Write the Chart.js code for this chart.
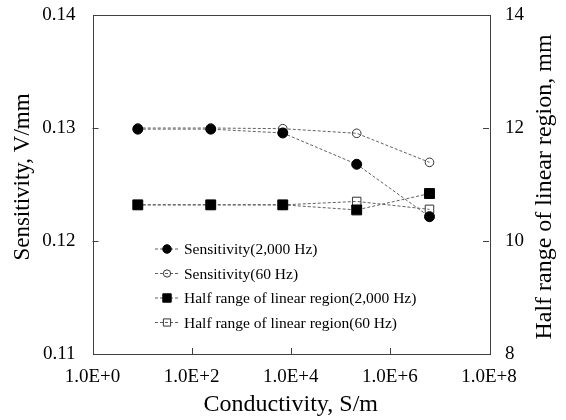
<!DOCTYPE html>
<html>
<head>
<meta charset="utf-8">
<script src="https://cdn.jsdelivr.net/npm/chart.js@4.4.0/dist/chart.umd.min.js"></script>
<style>
  html, body { margin: 0; padding: 0; background: #fff; }
  canvas { display: block; }
</style>
</head>
<body>
<canvas id="myChart" width="566" height="420"></canvas>
<script>
// values
const conductivity = [8.2, 243, 6900, 2.14e5, 6.3e6];
const sens2000 = [0.1299, 0.1299, 0.12956, 0.12679, 0.12215];
const sens60 = [0.1300, 0.1300, 0.12994, 0.12953, 0.12696];
const half2000 = [10.64, 10.64, 10.64, 10.55, 10.84];
const half60 = [10.64, 10.64, 10.64, 10.70, 10.56];
const seriesNames = [
  'Sensitivity(2,000 Hz)',
  'Sensitivity(60 Hz)',
  'Half range of linear region(2,000 Hz)',
  'Half range of linear region(60 Hz)'
];
const xTicks = [1, 1e2, 1e4, 1e6, 1e8];
const leftTicks = [0.11, 0.12, 0.13, 0.14];
const rightTicks = [8, 10, 12, 14];

const FONT = '"Liberation Serif", "Times New Roman", serif';
const AXIS = '#404040';
const LINE = '#606060';

function pts(ys) {
  return conductivity.map((x, i) => ({ x: x, y: ys[i] }));
}

function series(i, ys, axis, style, radius, filled) {
  return {
    label: seriesNames[i],
    data: pts(ys),
    yAxisID: axis,
    showLine: true,
    tension: 0,
    borderColor: LINE,
    borderWidth: 1,
    borderDash: [3, 2],
    pointStyle: style,
    pointRadius: radius,
    pointHoverRadius: radius,
    pointBorderWidth: 1,
    pointBorderColor: filled ? '#000' : '#333',
    pointBackgroundColor: filled ? '#000' : 'rgba(0,0,0,0)'
  };
}

function marker(ctx, ds, x, y, scale) {
  const r = ds.pointRadius * scale;
  ctx.save();
  ctx.setLineDash([]);
  ctx.lineWidth = 1;
  ctx.strokeStyle = ds.pointBorderColor;
  ctx.fillStyle = ds.pointBackgroundColor;
  ctx.beginPath();
  if (ds.pointStyle === 'rect') {
    const s = r * Math.SQRT1_2;
    ctx.rect(x - s, y - s, 2 * s, 2 * s);
  } else {
    ctx.arc(x, y, r, 0, Math.PI * 2);
  }
  ctx.fill();
  ctx.stroke();
  ctx.restore();
}

// fixed axis sizes so the plot box sits where the reference has it
function fixY(width) {
  return s => {
    s.width = width;
    s.paddingTop = 0;
    s.paddingBottom = 0;
  };
}

const decor = {
  id: 'decor',
  afterDraw(chart) {
    const ctx = chart.ctx;
    const a = chart.chartArea;
    const xs = chart.scales.x, yl = chart.scales.y, yr = chart.scales.y2;
    ctx.save();
    // frame
    ctx.strokeStyle = AXIS;
    ctx.lineWidth = 1;
    ctx.strokeRect(Math.round(a.left) + 0.5, Math.round(a.top) + 0.5,
      Math.round(a.right - a.left), Math.round(a.bottom - a.top));
    // inside tick marks
    ctx.beginPath();
    xTicks.slice(1, -1).forEach(v => {
      const px = Math.round(xs.getPixelForValue(v)) + 0.5;
      ctx.moveTo(px, a.bottom);
      ctx.lineTo(px, a.bottom - 6);
    });
    leftTicks.slice(1, -1).forEach(v => {
      const py = Math.round(yl.getPixelForValue(v)) + 0.5;
      ctx.moveTo(a.left, py);
      ctx.lineTo(a.left + 6, py);
    });
    rightTicks.slice(1, -1).forEach(v => {
      const py = Math.round(yr.getPixelForValue(v)) + 0.5;
      ctx.moveTo(a.right, py);
      ctx.lineTo(a.right - 6, py);
    });
    ctx.stroke();

    // axis titles
    ctx.fillStyle = '#000';
    ctx.textAlign = 'center';
    ctx.textBaseline = 'middle';
    ctx.font = '24px ' + FONT;
    ctx.fillText('Conductivity, S/m', (a.left + a.right) / 2, 405);
    ctx.save();
    ctx.translate(545, 187);
    ctx.rotate(-Math.PI / 2);
    ctx.fillText('Half range of linear region, mm', 0, 0);
    ctx.restore();
    ctx.font = '23px ' + FONT;
    ctx.save();
    ctx.translate(23, 177);
    ctx.rotate(-Math.PI / 2);
    ctx.fillText('Sensitivity, V/mm', 0, 0);
    ctx.restore();

    // legend inside the plot
    const ly = [249, 273.5, 298, 322.5];
    ctx.font = '15.5px ' + FONT;
    ctx.textAlign = 'left';
    chart.data.datasets.forEach((ds, i) => {
      const y = ly[i];
      ctx.save();
      ctx.strokeStyle = LINE;
      ctx.setLineDash([3, 2]);
      ctx.beginPath();
      ctx.moveTo(155, y);
      ctx.lineTo(179, y);
      ctx.stroke();
      ctx.restore();
      marker(ctx, ds, 167, y, 0.85);
      ctx.fillStyle = '#000';
      ctx.fillText(ds.label, 184, y + 1);
    });
    ctx.restore();
  }
};

new Chart(document.getElementById('myChart').getContext('2d'), {
  type: 'scatter',
  plugins: [decor],
  data: {
    datasets: [
      series(0, sens2000, 'y', 'circle', 5, true),
      series(1, sens60, 'y', 'circle', 4.3, false),
      series(2, half2000, 'y2', 'rect', 7, true),
      series(3, half60, 'y2', 'rect', 6, false)
    ]
  },
  options: {
    responsive: false,
    animation: false,
    layout: { padding: { top: 15, left: 0, right: 0, bottom: 0 } },
    plugins: {
      legend: { display: false },
      tooltip: { enabled: false }
    },
    scales: {
      x: {
        type: 'logarithmic',
        min: 1,
        max: 1e8,
        afterBuildTicks: s => { s.ticks = xTicks.map(v => ({ value: v })); },
        afterFit: s => { s.height = 66; },
        grid: { display: false, drawTicks: false },
        border: { display: false },
        ticks: {
          color: '#000',
          font: { family: FONT, size: 19 },
          padding: 12,
          maxRotation: 0,
          autoSkip: false,
          callback: v => Number(v).toExponential(1).toUpperCase()
        }
      },
      y: {
        position: 'left',
        min: 0.11,
        max: 0.14,
        afterBuildTicks: s => { s.ticks = leftTicks.map(v => ({ value: v })); },
        afterFit: fixY(92.5),
        grid: { display: false, drawTicks: false },
        border: { display: false },
        ticks: {
          color: '#000',
          font: { family: FONT, size: 19 },
          padding: 17,
          callback: v => Number(v).toFixed(2)
        }
      },
      y2: {
        position: 'right',
        min: 8,
        max: 14,
        afterBuildTicks: s => { s.ticks = rightTicks.map(v => ({ value: v })); },
        afterFit: fixY(77),
        grid: { display: false, drawTicks: false },
        border: { display: false },
        ticks: {
          color: '#000',
          font: { family: FONT, size: 19 },
          padding: 16,
          callback: v => String(v)
        }
      }
    }
  }
});
</script>
</body>
</html>
